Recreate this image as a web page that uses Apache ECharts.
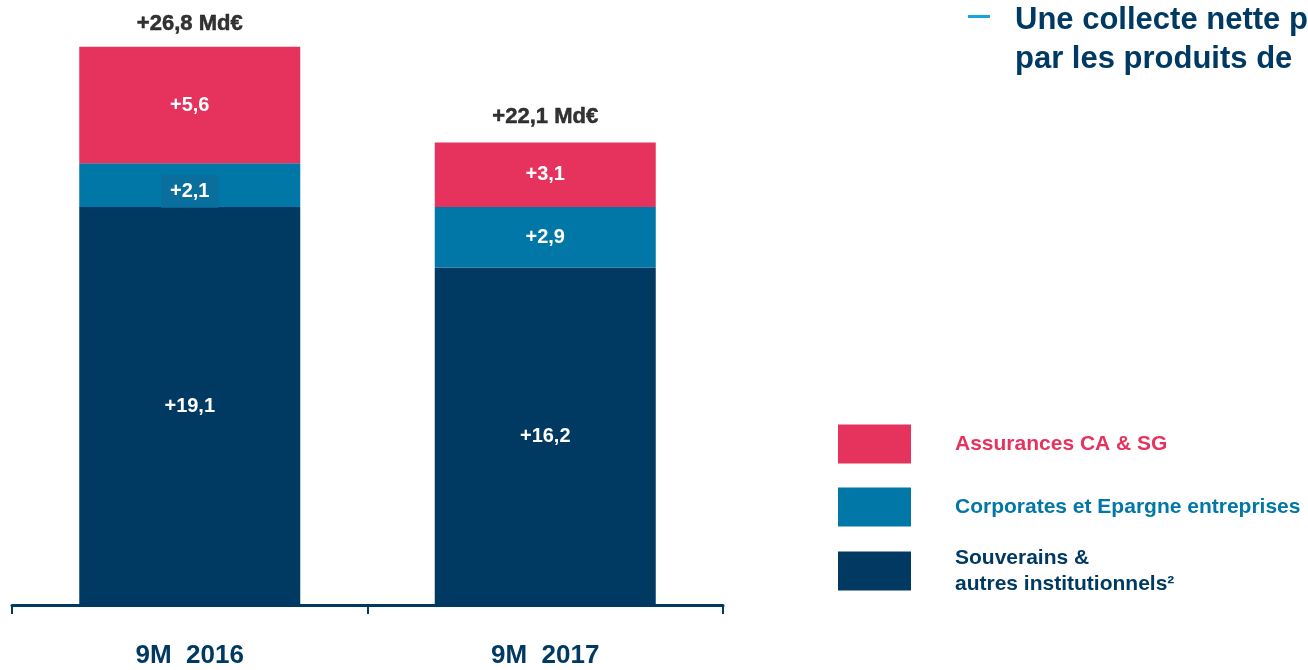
<!DOCTYPE html>
<html>
<head>
<meta charset="utf-8">
<script src="https://cdn.jsdelivr.net/npm/echarts@6/dist/echarts.min.js"></script>
<style>
  html, body { margin: 0; padding: 0; background: #fff; }
  #chart { width: 1308px; height: 670px; }
</style>
</head>
<body>
<div id="chart"></div>
<script>
// données (Md€)
var categories = ['9M  2016', '9M  2017'];
var souverains = [19.1, 16.2];
var corporates = [2.1, 2.9];
var assurances = [5.6, 3.1];
var totals = [26.8, 22.1];

var NAVY = '#003A63';
var BLUE = '#0077A6';
var PINK = '#E5335E';
var FONT = '"Liberation Sans", Arial, sans-serif';

function fmt(v) {
    return '+' + v.toFixed(1).replace('.', ',');
}

var insideLabel = {
    show: true,
    position: 'inside',
    color: '#fff',
    fontFamily: FONT,
    fontWeight: 'bold',
    fontSize: 20,
    formatter: function (p) { return fmt(p.value); }
};

var myChart = echarts.init(document.getElementById('chart'));
var option = {
    animation: false,
    textStyle: { fontFamily: FONT },
    title: {
        text: 'Une collecte nette p\npar les produits de',
        left: 1015,
        top: 1,
        padding: 0,
        textStyle: {
            color: NAVY,
            fontFamily: FONT,
            fontWeight: 'bold',
            fontSize: 31,
            lineHeight: 39
        }
    },
    graphic: [{
        type: 'rect',
        left: 968,
        top: 15,
        shape: { width: 22, height: 3 },
        style: { fill: '#1BA3E0' }
    }],
    legend: {
        orient: 'vertical',
        left: 838,
        top: 419,
        padding: 0,
        itemWidth: 73,
        itemHeight: 39,
        itemGap: 13,
        icon: 'rect',
        selectedMode: false,
        textStyle: {
            fontFamily: FONT,
            fontWeight: 'bold',
            fontSize: 21,
            lineHeight: 50,
            padding: [0, 0, 0, 39]
        },
        data: [
            { name: 'Assurances CA & SG', textStyle: { color: PINK } },
            { name: 'Corporates et Epargne entreprises', textStyle: { color: BLUE } },
            { name: 'Souverains &\nautres institutionnels²', textStyle: { color: NAVY, lineHeight: 26 } }
        ]
    },
    grid: { left: 12, right: 585, top: 5, bottom: 65 },
    xAxis: {
        type: 'category',
        data: categories,
        axisLine: { lineStyle: { color: NAVY, width: 3 } },
        axisTick: { show: true, length: 9, lineStyle: { color: NAVY, width: 2 } },
        axisLabel: {
            margin: 38,
            color: NAVY,
            fontFamily: FONT,
            fontWeight: 'bold',
            fontSize: 26
        }
    },
    yAxis: {
        type: 'value',
        min: 0,
        max: 28.8,
        show: false,
        splitLine: { show: false }
    },
    series: [
        {
            name: 'Souverains &\nautres institutionnels²',
            type: 'bar',
            stack: 'tot',
            barWidth: 221,
            itemStyle: { color: NAVY },
            label: insideLabel,
            data: souverains
        },
        {
            name: 'Corporates et Epargne entreprises',
            type: 'bar',
            stack: 'tot',
            barWidth: 221,
            itemStyle: { color: BLUE },
            label: insideLabel,
            data: corporates.map(function (v, i) {
                if (i === 0) {
                    return { value: v, label: { backgroundColor: '#0A6F9C', padding: [7, 9, 6, 9], offset: [0, 6] } };
                }
                return v;
            })
        },
        {
            name: 'Assurances CA & SG',
            type: 'bar',
            stack: 'tot',
            barWidth: 221,
            itemStyle: { color: PINK },
            label: insideLabel,
            data: assurances
        },
        {
            name: 'total',
            type: 'scatter',
            symbolSize: 1,
            itemStyle: { color: 'transparent' },
            label: {
                show: true,
                position: 'top',
                color: '#000',
                textBorderColor: '#000',
                textBorderWidth: 0.5,
                fontFamily: FONT,
                fontWeight: 'bold',
                fontSize: 22,
                formatter: function (p) { return fmt(p.value) + ' Md€'; }
            },
            data: totals.map(function (v, i) {
                return { value: v, label: { distance: i === 0 ? 11 : 16 } };
            })
        }
    ]
};
myChart.setOption(option);
</script>
</body>
</html>
